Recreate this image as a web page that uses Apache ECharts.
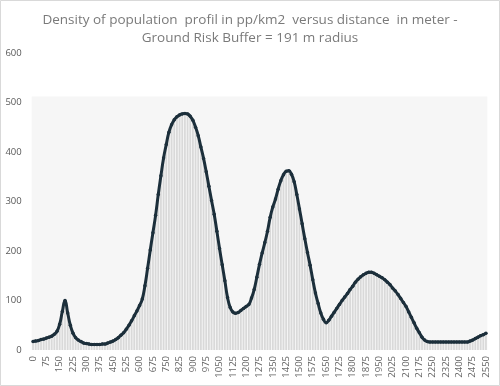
<!DOCTYPE html>
<html><head><meta charset="utf-8">
<script src="https://cdn.jsdelivr.net/npm/echarts@6/dist/echarts.min.js"></script>
<style>html,body{margin:0;padding:0;background:#fff}#c{width:500px;height:386px}</style>
</head><body><div id="c"></div>
<script>
const distances = [0,15,30,45,60,75,90,105,120,135,150,165,180,195,210,225,240,255,270,285,300,315,330,345,360,375,390,405,420,435,450,465,480,495,510,525,540,555,570,585,600,615,630,645,660,675,690,705,720,735,750,765,780,795,810,825,840,855,870,885,900,915,930,945,960,975,990,1005,1020,1035,1050,1065,1080,1095,1110,1125,1140,1155,1170,1185,1200,1215,1230,1245,1260,1275,1290,1305,1320,1335,1350,1365,1380,1395,1410,1425,1440,1455,1470,1485,1500,1515,1530,1545,1560,1575,1590,1605,1620,1635,1650,1665,1680,1695,1710,1725,1740,1755,1770,1785,1800,1815,1830,1845,1860,1875,1890,1905,1920,1935,1950,1965,1980,1995,2010,2025,2040,2055,2070,2085,2100,2115,2130,2145,2160,2175,2190,2205,2220,2235,2250,2265,2280,2295,2310,2325,2340,2355,2370,2385,2400,2415,2430,2445,2460,2475,2490,2505,2520,2535,2550];
const density = [17,18,19,21,22,24,26,28,32,38,52,78,100,75,50,34,25,20,17,14,13,12,11,11,11,11,12,12,14,16,18,21,25,30,35,42,50,59,69,79,90,103,130,165,202,237,272,314,352,388,415,440,455,465,471,475,477,478,477,472,464,450,433,410,387,360,331,302,274,240,205,172,140,106,86,77,74,76,80,84,88,92,105,122,147,173,196,217,240,268,289,305,325,342,354,361,362,355,340,314,285,255,225,197,171,142,115,94,75,62,55,60,68,76,84,92,100,107,114,122,129,137,143,148,152,155,157,157,155,152,149,146,142,137,132,125,119,112,104,96,88,77,66,55,44,35,26,20,17,16,16,16,16,16,16,16,16,16,16,16,16,16,16,16,18,20,23,26,29,31,34];
const yTicks = [0,100,200,300,400,500,600];
const titleText = 'Density of population  profil in pp/km2  versus distance  in meter -\nGround Risk Buffer = 191 m radius';

const chart = echarts.init(document.getElementById('c'), null, {renderer:'canvas'});
chart.setOption({
  animation:false,
  backgroundColor:'#ffffff',
  title:{text:titleText,left:'center',top:6,
    textStyle:{fontFamily:'Open Sans',fontSize:13.5,fontWeight:'normal',color:'#7a7a7a',lineHeight:18}},
  graphic:[{type:'rect',shape:{x:0.5,y:0.5,width:499,height:385},style:{fill:'none',stroke:'#d9d9d9',lineWidth:1},silent:true}],
  grid:{left:31.7,right:12.7,top:53,bottom:36},
  xAxis:{type:'category',data:distances.map(String),
    axisLine:{show:false},axisTick:{show:false},
    axisLabel:{interval:4,rotate:90,fontFamily:'Open Sans',fontSize:9.5,color:'#666666',margin:6}},
  yAxis:{type:'value',min:yTicks[0],max:yTicks[yTicks.length-1],interval:100,
    axisLine:{show:false},axisTick:{show:false},splitLine:{show:false},
    axisLabel:{fontFamily:'Open Sans',fontSize:9.5,color:'#595959',margin:10}},
  series:[
    {type:'bar',data:density,barCategoryGap:'35%',itemStyle:{color:'#d9d9d9'},z:2,
      markArea:{silent:true,itemStyle:{color:'#f6f6f6'},data:[[{yAxis:0},{yAxis:512}]]}},
    {type:'line',data:density,smooth:true,symbol:'circle',symbolSize:3.5,showSymbol:true,showAllSymbol:true,
      lineStyle:{color:'#1c2f3b',width:3},itemStyle:{color:'#1c2f3b'},z:3}
  ]
});
</script></body></html>
